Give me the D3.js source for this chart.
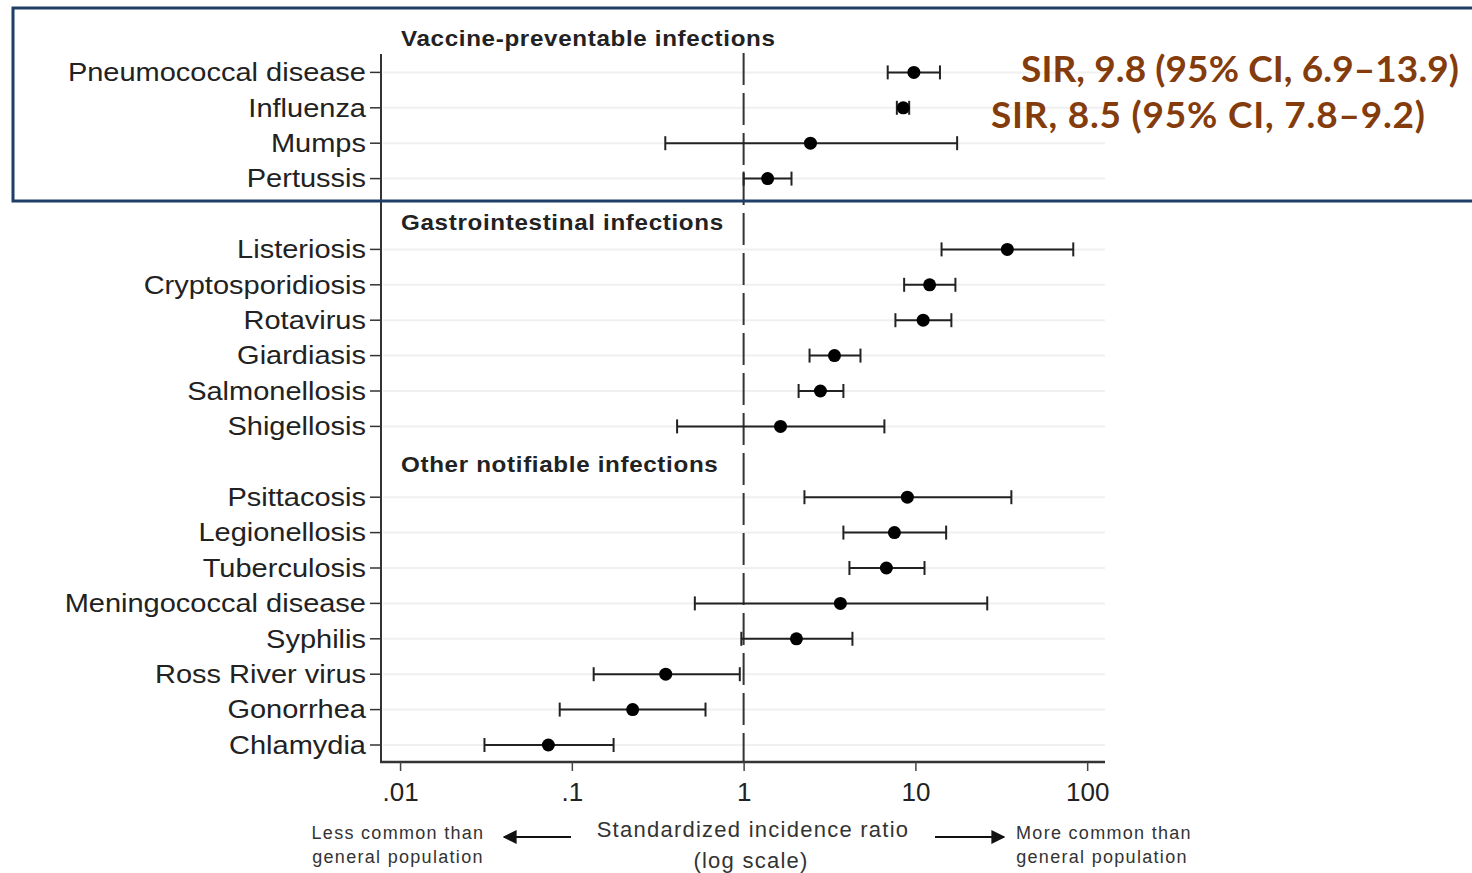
<!DOCTYPE html>
<html>
<head>
<meta charset="utf-8">
<script src="https://cdn.jsdelivr.net/npm/d3@7"></script>
<style>
  html, body { margin: 0; padding: 0; background: #fff; }
  svg { display: block; }
</style>
</head>
<body>
<svg id="chart" width="1472" height="873"></svg>
<script>
// ---------------- data ----------------
const groups = ["Vaccine-preventable infections", "Gastrointestinal infections", "Other notifiable infections"];
const groupSizes = [4, 6, 8];
const categories = [
  "Pneumococcal disease", "Influenza", "Mumps", "Pertussis",
  "Listeriosis", "Cryptosporidiosis", "Rotavirus", "Giardiasis", "Salmonellosis", "Shigellosis",
  "Psittacosis", "Legionellosis", "Tuberculosis", "Meningococcal disease", "Syphilis",
  "Ross River virus", "Gonorrhea", "Chlamydia"
];
const sir    = [9.8, 8.5, 2.45, 1.38, 34.3, 12.1, 11.1, 3.38, 2.8, 1.64, 8.98, 7.55, 6.78, 3.66, 2.03, 0.352, 0.226, 0.073];
const ciLow  = [6.9, 7.8, 0.35, 1.0, 14.2, 8.6, 7.65, 2.42, 2.09, 0.41, 2.26, 3.81, 4.13, 0.52, 0.97, 0.134, 0.085, 0.031];
const ciHigh = [13.9, 9.2, 17.5, 1.9, 83, 17.1, 16.2, 4.79, 3.81, 6.6, 36.2, 15.1, 11.3, 26.2, 4.3, 0.95, 0.60, 0.175];
const tickValues = [0.01, 0.1, 1, 10, 100];
const tickLabels = [".01", ".1", "1", "10", "100"];
const annotations = ["SIR, 9.8 (95% CI, 6.9\u201313.9)", "SIR, 8.5 (95% CI, 7.8\u20139.2)"];

// ---------------- layout ----------------
const svg = d3.select("#chart");
const left = 382, right = 1105, axisY = 762;
const x = d3.scaleLog().domain([0.00785, 127]).range([left, right]);
const y = d3.scaleLinear().domain([0, 20]).range([37, 745]);
const headerShift = [0, 0.22, 0.05];

// slot index of each row / header
const rows = [];
const headers = [];
let slot = 0, ci = 0;
groups.forEach((g, gi) => {
  headers.push({ name: g, slot: slot + headerShift[gi] });
  slot++;
  for (let k = 0; k < groupSizes[gi]; k++) {
    rows.push({ name: categories[ci], sir: sir[ci], lo: ciLow[ci], hi: ciHigh[ci], slot: slot });
    ci++; slot++;
  }
});

const labelFont = "'Liberation Sans', Arial, Helvetica, sans-serif";

// gridlines
svg.append("g").selectAll("line").data(rows).join("line")
  .attr("x1", left + 1).attr("x2", right)
  .attr("y1", d => y(d.slot)).attr("y2", d => y(d.slot))
  .attr("stroke", "#f0f0f0").attr("stroke-width", 2);

// reference dashed line at 1
svg.append("line")
  .attr("x1", x(1)).attr("x2", x(1))
  .attr("y1", 53).attr("y2", axisY)
  .attr("stroke", "#333").attr("stroke-width", 2)
  .attr("stroke-dasharray", "32,8");

// y axis
const yAxis = svg.append("g");
yAxis.append("line").attr("x1", left - 1).attr("x2", left - 1).attr("y1", 54).attr("y2", axisY + 1)
  .attr("stroke", "#333").attr("stroke-width", 2);
yAxis.selectAll("line.tk").data(rows).join("line").attr("class", "tk")
  .attr("x1", left - 12).attr("x2", left - 1)
  .attr("y1", d => y(d.slot)).attr("y2", d => y(d.slot))
  .attr("stroke", "#333").attr("stroke-width", 1.5);
yAxis.selectAll("text").data(rows).join("text")
  .attr("x", 0).attr("y", 0)
  .attr("transform", d => `translate(${left - 16},${y(d.slot)}) scale(1.16,1)`)
  .attr("text-anchor", "end").attr("dominant-baseline", "central")
  .attr("font-family", labelFont).attr("font-size", 25).attr("fill", "#222")
  .text(d => d.name);

// group headers
svg.selectAll("text.hdr").data(headers).join("text").attr("class", "hdr")
  .attr("x", 0).attr("y", 0)
  .attr("transform", d => `translate(401,${y(d.slot) + 1}) scale(1.1,1)`)
  .attr("dominant-baseline", "central")
  .attr("font-family", labelFont).attr("font-weight", "bold").attr("font-size", 22)
  .attr("letter-spacing", 0.6).attr("fill", "#222")
  .text(d => d.name);

// x axis
const xAxis = svg.append("g").attr("transform", `translate(0,${axisY})`)
  .call(d3.axisBottom(x).tickValues(tickValues).tickFormat((d, i) => tickLabels[i]).tickSize(9).tickPadding(12));
xAxis.select(".domain").attr("d", `M${left - 2},0H${right}`).attr("stroke", "#333").attr("stroke-width", 2.5);
xAxis.selectAll(".tick line").attr("stroke", "#444").attr("stroke-width", 1.5);
xAxis.selectAll(".tick text").attr("font-family", labelFont).attr("font-size", 26).attr("fill", "#222");

// error bars
const eb = svg.append("g").attr("stroke", "#222").attr("stroke-width", 2);
eb.selectAll("line.bar").data(rows).join("line").attr("class", "bar")
  .attr("x1", d => x(d.lo)).attr("x2", d => x(d.hi))
  .attr("y1", d => y(d.slot)).attr("y2", d => y(d.slot));
eb.selectAll("line.capl").data(rows).join("line").attr("class", "capl")
  .attr("x1", d => x(d.lo)).attr("x2", d => x(d.lo))
  .attr("y1", d => y(d.slot) - 7).attr("y2", d => y(d.slot) + 7);
eb.selectAll("line.caph").data(rows).join("line").attr("class", "caph")
  .attr("x1", d => x(d.hi)).attr("x2", d => x(d.hi))
  .attr("y1", d => y(d.slot) - 7).attr("y2", d => y(d.slot) + 7);

// points
svg.append("g").selectAll("circle").data(rows).join("circle")
  .attr("cx", d => x(d.sir)).attr("cy", d => y(d.slot)).attr("r", 6.5)
  .attr("fill", "#000");

// axis title and direction notes
const titleG = svg.append("g").attr("font-family", labelFont).attr("fill", "#333");
titleG.append("text").attr("x", 753).attr("y", 829).attr("text-anchor", "middle").attr("dominant-baseline", "central")
  .attr("font-size", 22).attr("letter-spacing", 1.25).text("Standardized incidence ratio");
titleG.append("text").attr("x", 751).attr("y", 860).attr("text-anchor", "middle").attr("dominant-baseline", "central")
  .attr("font-size", 22).attr("letter-spacing", 1.25).text("(log scale)");

const noteG = svg.append("g").attr("font-family", labelFont).attr("fill", "#333").attr("font-size", 18).attr("letter-spacing", 1.3);
noteG.append("text").attr("x", 398).attr("y", 833).attr("text-anchor", "middle").attr("dominant-baseline", "central").text("Less common than");
noteG.append("text").attr("x", 398).attr("y", 857).attr("text-anchor", "middle").attr("dominant-baseline", "central").text("general population");
noteG.append("text").attr("x", 1104).attr("y", 833).attr("text-anchor", "middle").attr("dominant-baseline", "central").text("More common than");
noteG.append("text").attr("x", 1102).attr("y", 857).attr("text-anchor", "middle").attr("dominant-baseline", "central").text("general population");

const defs = svg.append("defs");
defs.append("marker").attr("id", "arr").attr("viewBox", "0 0 10 10").attr("refX", 9).attr("refY", 5)
  .attr("markerWidth", 14).attr("markerHeight", 14).attr("markerUnits", "userSpaceOnUse").attr("orient", "auto")
  .append("path").attr("d", "M0,0L10,5L0,10Z").attr("fill", "#111");
svg.append("line").attr("x1", 571).attr("x2", 504).attr("y1", 837).attr("y2", 837)
  .attr("stroke", "#111").attr("stroke-width", 2).attr("marker-end", "url(#arr)");
svg.append("line").attr("x1", 935).attr("x2", 1004).attr("y1", 837).attr("y2", 837)
  .attr("stroke", "#111").attr("stroke-width", 2).attr("marker-end", "url(#arr)");

// highlight box and annotations
svg.append("rect").attr("x", 13).attr("y", 8).attr("width", 1500).attr("height", 193)
  .attr("fill", "none").attr("stroke", "#1F3F66").attr("stroke-width", 3);
const annG = svg.append("g").attr("font-family", "Lato, 'Open Sans', sans-serif").attr("font-weight", "bold")
  .attr("fill", "#843C0C").attr("font-size", 37);
annG.append("text").attr("x", 1021).attr("y", 67).attr("dominant-baseline", "central")
  .attr("letter-spacing", 0.1).text(annotations[0]);
annG.append("text").attr("x", 991).attr("y", 113).attr("dominant-baseline", "central")
  .attr("letter-spacing", 0.8).text(annotations[1]);
</script>
</body>
</html>
